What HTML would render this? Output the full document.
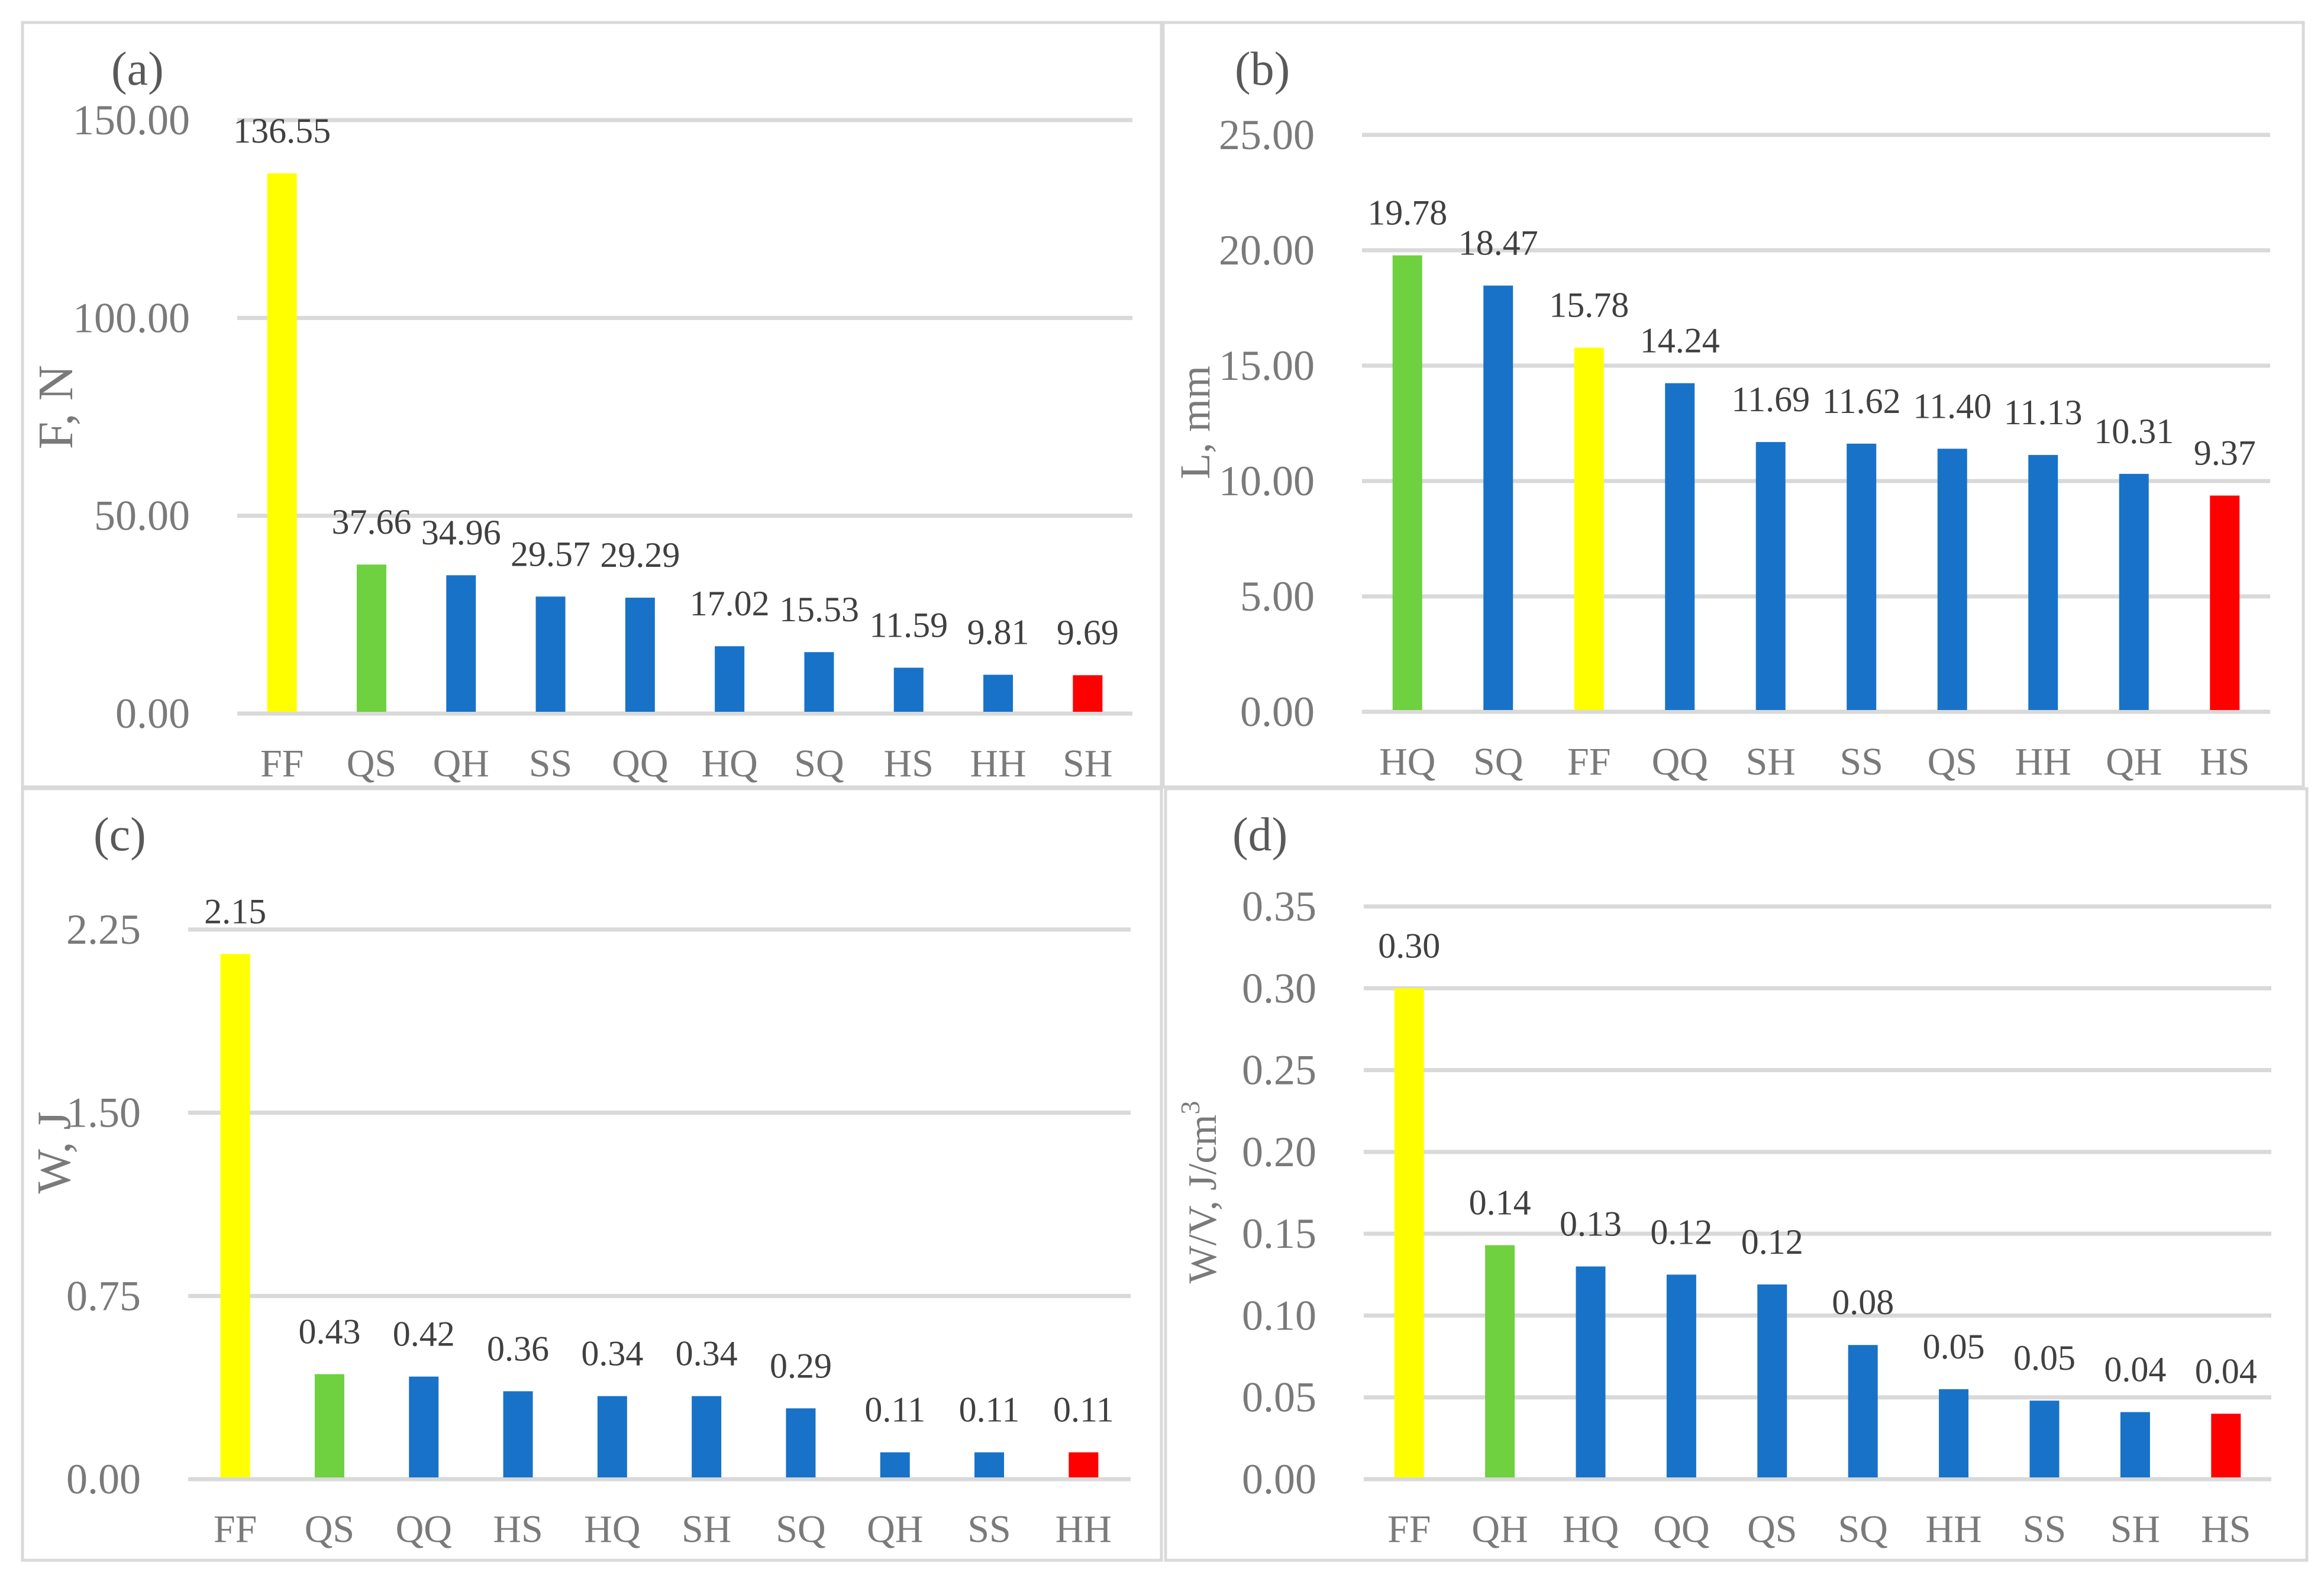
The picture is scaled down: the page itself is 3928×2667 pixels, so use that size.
<!DOCTYPE html>
<html><head><meta charset="utf-8">
<style>
html,body{margin:0;padding:0;background:#fff;}
svg{display:block;}
text{font-family:"Liberation Serif",serif;}
</style></head>
<body>
<svg id="fig" width="3928" height="2667" viewBox="0 0 3928 2667" xmlns="http://www.w3.org/2000/svg">
<rect x="0" y="0" width="3928" height="2667" fill="#fff"/>
</svg>
<script>
// Panel (a) F, N
const catsA = ["FF","QS","QH","SS","QQ","HQ","SQ","HS","HH","SH"];
const valsA = [136.55,37.66,34.96,29.57,29.29,17.02,15.53,11.59,9.81,9.69];
const ticksA = ["0.00","50.00","100.00","150.00"];
const colorsA = ["#FFFF00","#6FD040","#1872C8","#1872C8","#1872C8","#1872C8","#1872C8","#1872C8","#1872C8","#FF0000"];
// Panel (b) L, mm
const catsB = ["HQ","SQ","FF","QQ","SH","SS","QS","HH","QH","HS"];
const valsB = [19.78,18.47,15.78,14.24,11.69,11.62,11.40,11.13,10.31,9.37];
const ticksB = ["0.00","5.00","10.00","15.00","20.00","25.00"];
const colorsB = ["#6FD040","#1872C8","#FFFF00","#1872C8","#1872C8","#1872C8","#1872C8","#1872C8","#1872C8","#FF0000"];
// Panel (c) W, J
const catsC = ["FF","QS","QQ","HS","HQ","SH","SQ","QH","SS","HH"];
const valsC = [2.15,0.43,0.42,0.36,0.34,0.34,0.29,0.11,0.11,0.11];
const labelsC = ["2.15","0.43","0.42","0.36","0.34","0.34","0.29","0.11","0.11","0.11"];
const ticksC = ["0.00","0.75","1.50","2.25"];
const colorsC = ["#FFFF00","#6FD040","#1872C8","#1872C8","#1872C8","#1872C8","#1872C8","#1872C8","#1872C8","#FF0000"];
// Panel (d) W/V, J/cm3
const catsD = ["FF","QH","HQ","QQ","QS","SQ","HH","SS","SH","HS"];
const valsD = [0.300,0.143,0.130,0.125,0.119,0.082,0.055,0.048,0.041,0.040];
const labelsD = ["0.30","0.14","0.13","0.12","0.12","0.08","0.05","0.05","0.04","0.04"];
const ticksD = ["0.00","0.05","0.10","0.15","0.20","0.25","0.30","0.35"];
const colorsD = ["#FFFF00","#6FD040","#1872C8","#1872C8","#1872C8","#1872C8","#1872C8","#1872C8","#1872C8","#FF0000"];

const NS = "http://www.w3.org/2000/svg";
const svg = document.getElementById("fig");
function mk(tag, attrs, parent){
  const e = document.createElementNS(NS, tag);
  for (const k in attrs) e.setAttribute(k, attrs[k]);
  (parent||svg).appendChild(e);
  return e;
}
function panel(id, box, plot, cats, vals, labels, ticks, colors, title, letter, titlePos, letterPos, titleSize){
  const g = mk("g", {});
  
  
  const frame = mk("rect", {x:box[0], y:box[1], width:box[2]-box[0], height:box[3]-box[1], fill:"none", stroke:"#d9d9d9", "stroke-width":5}, g);
  
  
  const [L, R, Y0, YT] = plot;
  const maxV = parseFloat(ticks[ticks.length-1]);
  const y = v => Y0 - (v / maxV) * (Y0 - YT);
  const step = (R - L) / cats.length;
  const x = i => L + step * (i + 0.5);
  ticks.forEach(t => {
    const v = parseFloat(t);
    const gl = mk("line", {x1:L, x2:R, y1:y(v), y2:y(v), stroke:"#d9d9d9", "stroke-width":7}, g);
    
    
    const tl = mk("text", {x:L-80, y:y(v)+24, "text-anchor":"end", "font-size":72, fill:"#7a7a7a"}, g);
    tl.textContent = t;
    
    
  });
  const bw = 50;
  cats.forEach((c, i) => {
    const top = y(vals[i]);
    const b = mk("rect", {x:x(i)-bw/2, y:top, width:bw, height:Y0-3-top, fill:colors[i]}, g);
    
    
    const dl = mk("text", {x:x(i), y:top-52, "text-anchor":"middle", "font-size":60, fill:"#404040"}, g);
    dl.textContent = labels[i];
    
    
    const cl = mk("text", {x:x(i), y:Y0+106, "text-anchor":"middle", "font-size":66, fill:"#7a7a7a"}, g);
    cl.textContent = c;
    
    
  });
  const at = mk("text", {x:0, y:0, "text-anchor":"middle", "font-size":titleSize, fill:"#7a7a7a", transform:`translate(${titlePos[0]},${titlePos[1]}) rotate(-90)`}, g);
  
  
  if (title === "W/V, J/cm3") {
    at.textContent = "W/V, J/cm";
    const sup = mk("tspan", {dy:-28, "font-size":46}, at);
    sup.textContent = "3";
  } else at.textContent = title;
  const pl = mk("text", {x:letterPos[0], y:letterPos[1], "font-size":80, fill:"#595959"}, g);
  pl.textContent = letter;
  
  
}
panel("a", [38,38,1963,1330], [401,1914,1206,203], catsA, valsA, valsA.map(v=>v.toFixed(2)), ticksA, colorsA, "F, N", "(a)", [122,688], [188,143], 84);
panel("b", [1966,38,3893,1330], [2302,3837,1203,228], catsB, valsB, valsB.map(v=>v.toFixed(2)), ticksB, colorsB, "L, mm", "(b)", [2044,714], [2087,143], 72);
panel("c", [38,1333,1963,2637], [318,1911,2500,1571], catsC, valsC, labelsC, ticksC, colorsC, "W, J", "(c)", [118,1948], [158,1437], 80);
panel("d", [1970,1333,3899,2637], [2305,3839,2500,1532], catsD, valsD, labelsD, ticksD, colorsD, "W/V, J/cm3", "(d)", [2055,2015], [2083,1437], 68);
</script>
</body></html>
